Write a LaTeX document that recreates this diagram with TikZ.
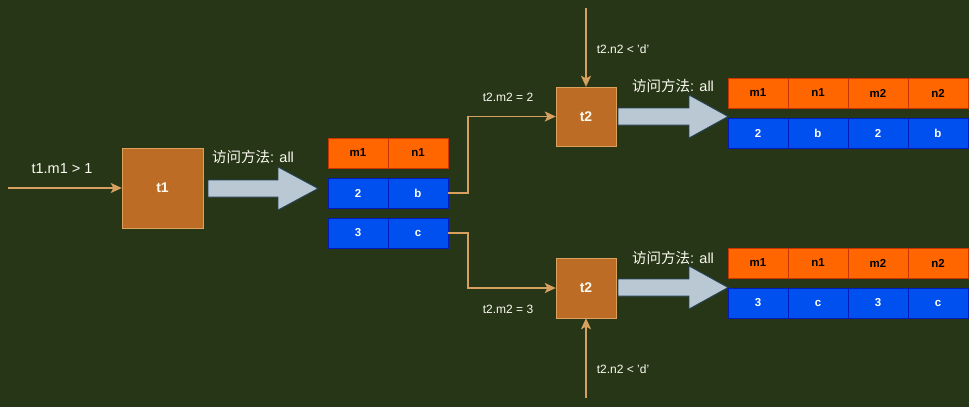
\documentclass[tikz,border=0pt]{standalone}
\usepackage{fontspec}
\setmainfont{Liberation Sans}
\newfontfamily\cjk{Noto Sans CJK SC}
\usetikzlibrary{arrows.meta}
\definecolor{bg}{RGB}{40,54,24}
\definecolor{opfill}{RGB}{188,108,37}
\definecolor{opborder}{RGB}{221,161,94}
\definecolor{linecol}{RGB}{214,160,96}
\definecolor{hdrfill}{RGB}{255,102,0}
\definecolor{hdrborder}{RGB}{199,53,0}
\definecolor{datfill}{RGB}{0,80,239}
\definecolor{datborder}{RGB}{0,29,188}
\definecolor{arrfill}{RGB}{186,200,211}
\definecolor{arrborder}{RGB}{35,68,93}
\definecolor{lbl}{RGB}{250,250,240}
\newcommand\bigarr[4]{%
  \draw[bigarrow] (#1,#2-8.5) -- (#3,#2-8.5) -- (#3,#2-21.5) -- (#4,#2) -- (#3,#2+21.5) -- (#3,#2+8.5) -- (#1,#2+8.5) -- cycle;}
\begin{document}
\begin{tikzpicture}[x=1pt,y=-1pt,
  op/.style={draw=opborder, fill=opfill, inner sep=0pt, text=lbl, font=\bfseries\fontsize{14}{16}\selectfont},
  hdr/.style={draw=hdrborder, fill=hdrfill, minimum width=60pt, minimum height=30pt, inner sep=0pt, text=black, font=\bfseries\fontsize{11.5}{13}\selectfont},
  dat/.style={draw=datborder, fill=datfill, minimum width=60pt, minimum height=30pt, inner sep=0pt, text=white, font=\bfseries\fontsize{11.5}{13}\selectfont},
  conn/.style={draw=linecol, line width=1.5pt, -{Stealth[length=11pt,width=10pt,inset=2.5pt]}},
  bigarrow/.style={fill=arrfill, draw=arrborder, line width=0.8pt},
  lab/.style={text=lbl, inner sep=0pt, font=\fontsize{14.5}{17}\selectfont},
  slab/.style={text=lbl, inner sep=0pt, font=\fontsize{12}{14}\selectfont}]
\fill[bg] (0,0) rectangle (969,407);
\useasboundingbox (0,0) rectangle (969,407);

% operators
\node[op, minimum width=81pt, minimum height=80pt] (t1) at (162.5,188) {t1};
\node[op, minimum width=60pt, minimum height=59pt] (t2a) at (586,116.5) {t2};
\node[op, minimum width=60pt, minimum height=60pt] (t2b) at (586,288) {t2};

% middle table
\node[hdr] (h1m) at (358,153) {m1};
\node[hdr] (h1n) at (418,153) {n1};
\node[dat] (r2a) at (358,193) {2};
\node[dat] (r2b) at (418,193) {b};
\node[dat] (r3a) at (358,233) {3};
\node[dat] (r3b) at (418,233) {c};

% top right table
\node[hdr] (ta1) at (758,93) {m1};
\node[hdr] (ta2) at (818,93) {n1};
\node[hdr] (ta3) at (878,93) {m2};
\node[hdr] (ta4) at (938,93) {n2};
\node[dat] (da1) at (758,133) {2};
\node[dat] (da2) at (818,133) {b};
\node[dat] (da3) at (878,133) {2};
\node[dat] (da4) at (938,133) {b};

% bottom right table
\node[hdr] (tb1) at (758,263) {m1};
\node[hdr] (tb2) at (818,263) {n1};
\node[hdr] (tb3) at (878,263) {m2};
\node[hdr] (tb4) at (938,263) {n2};
\node[dat] (db1) at (758,303) {3};
\node[dat] (db2) at (818,303) {c};
\node[dat] (db3) at (878,303) {3};
\node[dat] (db4) at (938,303) {c};

% big arrows
\bigarr{208}{188.5}{278}{318}
\bigarr{618}{116.5}{689}{728}
\bigarr{618}{287.5}{689}{728}

% labels
\node[lab] (l1) at (62,169) {t1.m1 > 1};
\node[lab] (v1) at (253,157) {{\cjk 访问方法}: all};
\node[lab] (v2) at (673,86) {{\cjk 访问方法}: all};
\node[lab] (v3) at (673,258) {{\cjk 访问方法}: all};
\node[slab] (c1) at (508,97) {t2.m2 = 2};
\node[slab] (c2) at (508,309) {t2.m2 = 3};
\node[slab] (d1) at (623,49) {t2.n2 < 'd'};
\node[slab] (d2) at (623,369) {t2.n2 < 'd'};

% connectors
\coordinate (in1) at (8,188);
\coordinate (top1) at (586,8);
\coordinate (bot1) at (586,398);
\coordinate (bend1) at (468,116.5);
\coordinate (bend2) at (468,288);
\draw[conn] (in1) -- (t1);
\draw[conn] (r2b.east) -| (bend1) -- (t2a);
\draw[conn] (r3b.east) -| (bend2) -- (t2b);
\draw[conn] (top1) -- (t2a);
\draw[conn] (bot1) -- (t2b);
\end{tikzpicture}
\end{document}
